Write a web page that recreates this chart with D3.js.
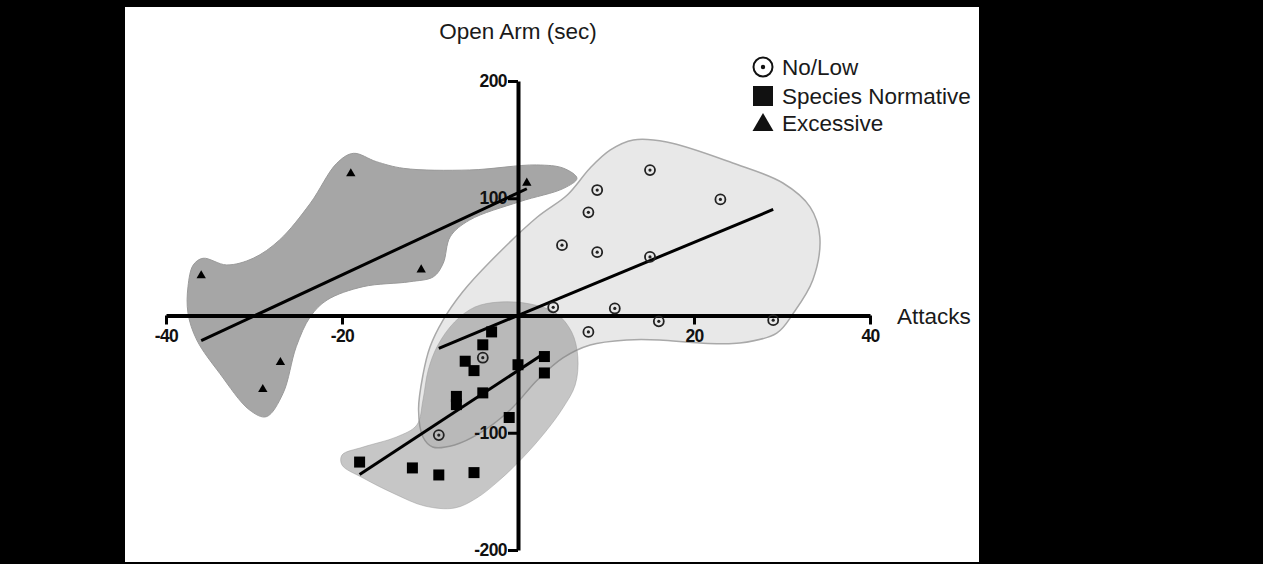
<!DOCTYPE html>
<html>
<head>
<meta charset="utf-8">
<script src="https://cdn.jsdelivr.net/npm/d3@7"></script>
<style>
  body { margin: 0; background: #000; }
  svg { display: block; }
  text { font-family: "Liberation Sans", Arial, sans-serif; }
</style>
</head>
<body>
<svg id="chart" width="1263" height="564"></svg>
<script>
// Points for each group: [attacks, open arm seconds]
const noLowPoints = [
    [15, 124], [9, 107], [8, 88], [23, 99], [5, 60], [9, 54], [15, 50],
    [4, 7], [11, 6], [16, -5], [29, -4], [8, -14], [-4, -36], [-9, -102]
];
const normativePoints = [
    [-3, -14], [-4, -25], [-6, -39], [-5, -47], [0, -42], [3, -35], [3, -49],
    [-7, -69], [-7, -76], [-4, -66], [-1, -87], [-12, -130], [-9, -136],
    [-5, -134], [-18, -125]
];
const excessivePoints = [
    [-36, 34], [-19, 121], [-11, 39], [1, 113], [-27, -40], [-29, -63]
];

// Outlines of the shaded group regions (data units)
const excessiveBlob = [
    [-37.5, 24.6], [-36.9, 43.1], [-35.8, 48.8], [-33.1, 43.1], [-30.1, 48.8],
    [-27.1, 64.4], [-23.6, 95.7], [-20.6, 129.8], [-18.7, 138.3], [-16.1, 131.2],
    [-13.0, 125.5], [-5.5, 124.1], [2.1, 128.4], [5.2, 125.5], [6.7, 117.0],
    [5.2, 108.5], [0.2, 97.1], [-5.5, 81.4], [-7.7, 67.2], [-8.5, 44.5],
    [-9.6, 33.1], [-12.3, 28.8], [-17.6, 24.6], [-21.7, 13.2], [-23.6, -1.0],
    [-25.2, -26.6], [-26.7, -66.4], [-28.6, -86.3], [-30.5, -80.6],
    [-33.9, -49.3], [-36.5, -20.9], [-37.5, 1.9]
];
const noLowBlob = [
    [13.1, 149.7], [16.9, 148.0], [24.4, 130.1], [30.1, 113.0], [33.2, 92.5],
    [34.3, 67.0], [33.5, 30.3], [31.3, 2.1], [29.4, -15.0], [25.2, -23.5],
    [20.7, -23.5], [16.1, -20.9], [12.4, -20.9], [8.2, -25.2], [5.1, -36.2],
    [2.2, -55.0], [-0.9, -80.6], [-4.3, -100.2], [-7.2, -110.4], [-9.7, -112.1],
    [-10.8, -103.6], [-11.3, -80.6], [-10.8, -50.7], [-10.0, -26.9],
    [-8.5, -3.8], [-6.3, 20.0], [-3.2, 45.6], [2.2, 84.0], [5.6, 102.8],
    [8.2, 125.8], [10.5, 141.2]
];
const normativeBlob = [
    [-4.9, 7.2], [-2.1, 11.5], [1.4, 9.8], [4.3, 2.1], [6.1, -14.1],
    [6.8, -35.4], [6.5, -59.3], [5.1, -78.9], [3.1, -99.4], [0.5, -121.6],
    [-2.1, -140.4], [-4.7, -155.7], [-7.2, -164.2], [-10.6, -162.5],
    [-14.0, -152.2], [-17.6, -138.6], [-20.0, -127.5], [-20.0, -119.0],
    [-17.6, -112.2], [-13.8, -103.6], [-11.5, -93.4], [-10.8, -72.1],
    [-10.2, -46.5], [-9.1, -25.2], [-7.2, -5.5]
];

// Axis ticks and legend
const xTicks = [-40, -20, 20, 40];
const yTicks = [-200, -100, 100, 200];
const legendLabels = ['No/Low', 'Species Normative', 'Excessive'];

const svg = d3.select('#chart');

// White panel on the black page
svg.append('rect')
    .attr('x', 125).attr('y', 7)
    .attr('width', 854).attr('height', 555)
    .attr('fill', '#fff');

const x = d3.scaleLinear().domain([-40, 40]).range([166, 870]);
const y = d3.scaleLinear().domain([-200, 200]).range([550, 81]);

// Smooth closed outline for the regions
const blobLine = d3.line()
    .x(d => x(d[0]))
    .y(d => y(d[1]))
    .curve(d3.curveCatmullRomClosed.alpha(0.5));

svg.append('path')
    .attr('d', blobLine(excessiveBlob))
    .attr('fill', '#a6a6a6')
    .attr('stroke', '#9a9a9a')
    .attr('stroke-width', 1);

svg.append('path')
    .attr('d', blobLine(noLowBlob))
    .attr('fill', '#e8e8e8')
    .attr('stroke', '#a9a9a9')
    .attr('stroke-width', 1.5);

svg.append('path')
    .attr('d', blobLine(normativeBlob))
    .attr('fill', '#7c7c7c')
    .attr('fill-opacity', 0.43)
    .attr('stroke', '#999')
    .attr('stroke-opacity', 0.5)
    .attr('stroke-width', 1);

// Axes crossing at the origin (plain hyphen for negatives, as in the original)
const plain = d => String(d);

const xAxis = svg.append('g')
    .attr('transform', `translate(0,${y(0)})`)
    .call(d3.axisBottom(x).tickValues(xTicks).tickFormat(plain)
        .tickSize(9).tickSizeOuter(0).tickPadding(5));

const yAxis = svg.append('g')
    .attr('transform', `translate(${x(0)},0)`)
    .call(d3.axisLeft(y).tickValues(yTicks).tickFormat(plain)
        .tickSize(10).tickSizeOuter(0).tickPadding(1));

[xAxis, yAxis].forEach(g => {
    g.select('.domain').attr('stroke', '#000').attr('stroke-width', 4);
    g.selectAll('.tick line').attr('stroke', '#000').attr('stroke-width', 3);
    g.selectAll('.tick text')
        .attr('fill', '#111')
        .style('font-size', '17.5px')
        .style('font-weight', 'bold')
        .style('letter-spacing', '-0.6px');
});

// Regression line for each group, drawn over its x range
function fitLine(points) {
    const mx = d3.mean(points, d => d[0]);
    const my = d3.mean(points, d => d[1]);
    const sxy = d3.sum(points, d => (d[0] - mx) * (d[1] - my));
    const sxx = d3.sum(points, d => (d[0] - mx) * (d[0] - mx));
    const slope = sxy / sxx;
    const [x0, x1] = d3.extent(points, d => d[0]);
    return [[x0, my + slope * (x0 - mx)], [x1, my + slope * (x1 - mx)]];
}

const straight = d3.line().x(d => x(d[0])).y(d => y(d[1]));
[excessivePoints, noLowPoints, normativePoints].forEach(pts => {
    svg.append('path')
        .attr('d', straight(fitLine(pts)))
        .attr('stroke', '#000')
        .attr('stroke-width', 3)
        .attr('fill', 'none');
});

// Markers
const circles = svg.append('g').selectAll('g')
    .data(noLowPoints)
    .enter().append('g')
    .attr('transform', d => `translate(${x(d[0])},${y(d[1])})`);
circles.append('circle').attr('r', 5).attr('fill', 'none')
    .attr('stroke', '#222').attr('stroke-width', 1.8);
circles.append('circle').attr('r', 1.6).attr('fill', '#222');

svg.append('g').selectAll('rect')
    .data(normativePoints)
    .enter().append('rect')
    .attr('x', d => x(d[0]) - 5.5)
    .attr('y', d => y(d[1]) - 5.5)
    .attr('width', 11).attr('height', 11)
    .attr('fill', '#000');

svg.append('g').selectAll('path')
    .data(excessivePoints)
    .enter().append('path')
    .attr('d', d3.symbol(d3.symbolTriangle, 38))
    .attr('transform', d => `translate(${x(d[0])},${y(d[1])})`)
    .attr('fill', '#000');

// Axis titles
svg.append('text')
    .attr('x', x(0)).attr('y', 39)
    .attr('text-anchor', 'middle')
    .attr('fill', '#1a1a1a')
    .style('font-size', '22.5px')
    .text('Open Arm (sec)');

svg.append('text')
    .attr('x', 897).attr('y', y(0) + 8)
    .attr('fill', '#1a1a1a')
    .style('font-size', '22.5px')
    .text('Attacks');

// Legend
const legend = svg.append('g').attr('transform', 'translate(763,67)');
const rows = legend.selectAll('g')
    .data(legendLabels)
    .enter().append('g')
    .attr('transform', (d, i) => `translate(0,${[0, 29, 56][i]})`);

rows.append('text')
    .attr('x', 19).attr('dy', '0.36em')
    .attr('fill', '#1a1a1a')
    .style('font-size', '22.5px')
    .text(d => d);

rows.filter((d, i) => i === 0).each(function() {
    const g = d3.select(this);
    g.append('circle').attr('r', 9.5).attr('fill', 'none')
        .attr('stroke', '#111').attr('stroke-width', 2);
    g.append('circle').attr('r', 2.2).attr('fill', '#111');
});
rows.filter((d, i) => i === 1).append('rect')
    .attr('x', -10).attr('y', -10).attr('width', 20).attr('height', 20)
    .attr('fill', '#111');
rows.filter((d, i) => i === 2).append('path')
    .attr('d', d3.symbol(d3.symbolTriangle, 190))
    .attr('transform', 'translate(0,2)')
    .attr('fill', '#111');
</script>
</body>
</html>
